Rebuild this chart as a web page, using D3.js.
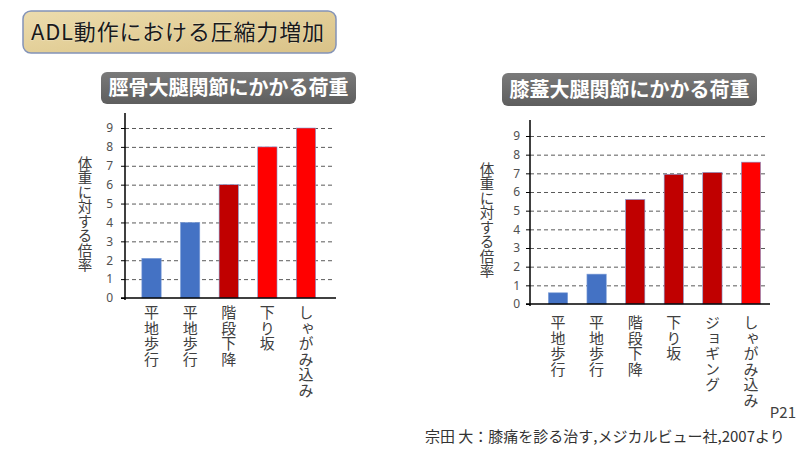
<!DOCTYPE html>
<html>
<head>
<meta charset="utf-8">
<script src="https://cdn.jsdelivr.net/npm/d3@7"></script>
<style>
  body { margin: 0; background: #fff; }
  svg { display: block; font-family: "Noto Sans CJK JP", "Noto Sans", sans-serif; }
</style>
</head>
<body>
<script>
// data
const yTicks = [0, 1, 2, 3, 4, 5, 6, 7, 8, 9];

const tibioLabels = ["平地歩行", "平地歩行", "階段下降", "下り坂", "しゃがみ込み"];
const tibioValues = [2.1, 4, 6, 8, 9];
const tibioGroups = ["low", "low", "mid", "high", "high"];

const patellaLabels = ["平地歩行", "平地歩行", "階段下降", "下り坂", "ジョギング", "しゃがみ込み"];
const patellaValues = [0.6, 1.6, 5.6, 6.95, 7.05, 7.6];
const patellaGroups = ["low", "low", "mid", "mid", "mid", "high"];

const color = d3.scaleOrdinal()
    .domain(["low", "mid", "high"])
    .range(["#4472C4", "#C00000", "#FF0000"]);

const svg = d3.select("body").append("svg")
    .attr("width", 800)
    .attr("height", 451);

const defs = svg.append("defs");
const paper = defs.append("linearGradient").attr("id", "paper")
    .attr("x1", 0).attr("y1", 0).attr("x2", 1).attr("y2", 1);
paper.append("stop").attr("offset", "0%").attr("stop-color", "#ecdcae");
paper.append("stop").attr("offset", "50%").attr("stop-color", "#e3cf98");
paper.append("stop").attr("offset", "100%").attr("stop-color", "#d9c288");

const grayBox = defs.append("linearGradient").attr("id", "graybox")
    .attr("x1", 0).attr("y1", 0).attr("x2", 0).attr("y2", 1);
grayBox.append("stop").attr("offset", "0%").attr("stop-color", "#7a7a7a");
grayBox.append("stop").attr("offset", "100%").attr("stop-color", "#5e5e5e");

// main title
svg.append("rect")
    .attr("x", 23).attr("y", 11).attr("width", 313).attr("height", 42)
    .attr("rx", 8)
    .attr("fill", "url(#paper)")
    .attr("stroke", "#8393b8")
    .attr("stroke-width", 1.5);
svg.append("text")
    .attr("x", 31).attr("y", 40)
    .attr("font-size", 22)
    .attr("fill", "#1a1a1a")
    .attr("textLength", 293)
    .style("paint-order", "stroke")
    .attr("stroke", "rgba(255,255,255,0.35)")
    .attr("stroke-width", 1)
    .text("ADL動作における圧縮力増加");

function drawChart(opts) {
    const g = svg.append("g");

    // subtitle box
    g.append("rect")
        .attr("x", opts.box[0]).attr("y", opts.box[1])
        .attr("width", opts.box[2]).attr("height", opts.box[3])
        .attr("rx", 6)
        .attr("fill", "url(#graybox)");
    g.append("text")
        .attr("x", opts.box[0] + opts.box[2] / 2)
        .attr("y", opts.box[1] + opts.box[3] / 2 + 7)
        .attr("text-anchor", "middle")
        .attr("font-size", 20)
        .attr("font-weight", "bold")
        .attr("fill", "#fff")
        .text(opts.title);

    const x = d3.scaleBand()
        .domain(opts.labels.map((d, i) => i))
        .range(opts.xRange)
        .paddingInner(0.5)
        .paddingOuter(0.25);

    const y = d3.scaleLinear()
        .domain([0, 9])
        .range(opts.yRange);

    // gridlines
    g.append("g")
        .attr("transform", `translate(${opts.axisX},0)`)
        .call(d3.axisLeft(y).tickValues(yTicks.slice(1)).tickSize(-(opts.gridEnd - opts.axisX)).tickFormat(""))
        .call(s => s.select(".domain").remove())
        .call(s => s.selectAll("line")
            .attr("stroke", "#5a5a5a")
            .attr("stroke-width", 1)
            .attr("stroke-dasharray", "4,3"));

    // bars
    g.append("g")
        .selectAll("rect")
        .data(opts.values)
        .join("rect")
        .attr("x", (d, i) => x(i))
        .attr("y", d => y(d))
        .attr("width", x.bandwidth())
        .attr("height", d => y(0) - y(d))
        .attr("fill", (d, i) => color(opts.groups[i]))
        .attr("stroke", "#7f9fd8")
        .attr("stroke-width", 0.6);

    // y axis ticks + labels
    g.append("g")
        .attr("transform", `translate(${opts.axisX},0)`)
        .call(d3.axisLeft(y).tickValues(yTicks).tickSize(4).tickPadding(opts.tickPad))
        .call(s => s.select(".domain").remove())
        .call(s => s.selectAll("line").attr("stroke", "#000"))
        .call(s => s.selectAll("text")
            .attr("font-size", 12)
            .attr("fill", "#505050")
            .attr("font-family", "'Noto Sans', sans-serif"));

    // axis lines
    g.append("line")
        .attr("x1", opts.axisX).attr("x2", opts.axisX)
        .attr("y1", opts.axisTop).attr("y2", y(0) + 2)
        .attr("stroke", "#000").attr("stroke-width", 1.5);
    g.append("line")
        .attr("x1", opts.axisX - 4).attr("x2", opts.xEnd)
        .attr("y1", y(0)).attr("y2", y(0))
        .attr("stroke", "#000").attr("stroke-width", 1.5);

    // category labels (vertical)
    g.append("g")
        .selectAll("text")
        .data(opts.labels)
        .join("text")
        .attr("x", (d, i) => x(i) + x.bandwidth() / 2)
        .attr("y", opts.labelTop)
        .style("writing-mode", "vertical-rl")
        .attr("font-size", 15)
        .attr("letter-spacing", 0.5)
        .attr("fill", "#404040")
        .text(d => d);

    // y axis title
    g.append("text")
        .attr("x", opts.yTitle[0])
        .attr("y", opts.yTitle[1])
        .style("writing-mode", "vertical-rl")
        .attr("font-size", 14.5)
        .attr("fill", "#404040")
        .text("体重に対する倍率");
}

drawChart({
    title: "脛骨大腿関節にかかる荷重",
    box: [101, 72, 255, 32],
    labels: tibioLabels,
    values: tibioValues,
    groups: tibioGroups,
    xRange: [132.2, 325.3],
    yRange: [298, 128],
    axisX: 125,
    axisTop: 113,
    gridEnd: 335,
    xEnd: 336,
    tickPad: 8,
    labelTop: 305,
    yTitle: [85, 156]
});

drawChart({
    title: "膝蓋大腿関節にかかる荷重",
    box: [502, 73, 255, 33],
    labels: patellaLabels,
    values: patellaValues,
    groups: patellaGroups,
    xRange: [538.7, 770.3],
    yRange: [304, 136],
    axisX: 530,
    axisTop: 120,
    gridEnd: 768,
    xEnd: 770,
    tickPad: 6,
    labelTop: 315,
    yTitle: [487, 162]
});

// footer
svg.append("text")
    .attr("x", 796).attr("y", 418)
    .attr("text-anchor", "end")
    .attr("font-size", 15)
    .attr("fill", "#404040")
    .text("P21");
svg.append("text")
    .attr("x", 425).attr("y", 442)
    .attr("font-size", 15)
    .attr("fill", "#333")
    .text("宗田 大：膝痛を診る治す,メジカルビュー社,2007より");
</script>
</body>
</html>
